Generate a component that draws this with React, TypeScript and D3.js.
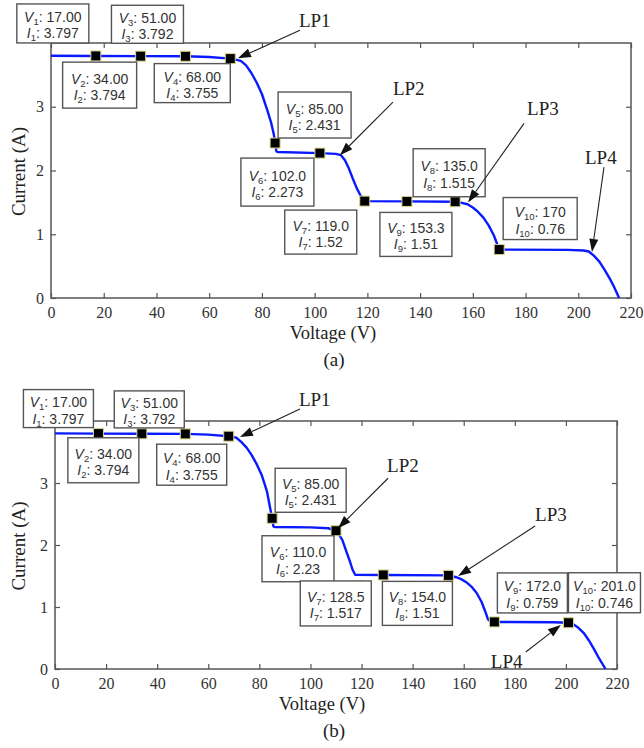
import React, { useEffect, useRef } from 'react';
import * as d3 from 'd3';

const voltageTicks = [0, 20, 40, 60, 80, 100, 120, 140, 160, 180, 200, 220];
const currentTicks = [0, 1, 2, 3];

// panel (a)
const curveAVoltage = [0, 17, 34, 51, 60, 68, 70, 72, 74, 76, 78, 80, 82, 83.5, 84.5, 85, 85.5, 86, 102, 108, 110, 111.5, 113, 114.5, 116, 117.5, 119, 135, 153.3, 155, 158, 160, 162, 164, 166, 168, 169, 170, 196, 202, 204, 206, 208, 210, 212, 213.5, 215.5];
const curveACurrent = [3.8, 3.797, 3.794, 3.792, 3.78, 3.755, 3.74, 3.72, 3.65, 3.53, 3.38, 3.2, 2.95, 2.75, 2.57, 2.431, 2.3, 2.29, 2.273, 2.26, 2.24, 2.16, 2.03, 1.87, 1.72, 1.6, 1.52, 1.515, 1.51, 1.5, 1.47, 1.42, 1.35, 1.26, 1.14, 0.98, 0.87, 0.76, 0.755, 0.745, 0.73, 0.66, 0.57, 0.44, 0.3, 0.18, 0];
const pointsAVoltage = [17, 34, 51, 68, 85, 102, 119, 135, 153.3, 170];
const pointsACurrent = [3.797, 3.794, 3.792, 3.755, 2.431, 2.273, 1.52, 1.515, 1.51, 0.76];
const tipsAVoltage = ['17.00', '34.00', '51.00', '68.00', '85.00', '102.0', '119.0', '135.0', '153.3', '170'];
const tipsACurrent = ['3.797', '3.794', '3.792', '3.755', '2.431', '2.273', '1.52', '1.515', '1.51', '0.76'];
const peaksAVoltage = [70.9, 109.6, 158.2, 205.2];
const peaksACurrent = [3.76, 2.24, 1.5, 0.72];

// panel (b)
const curveBVoltage = [0, 17, 34, 51, 60, 68, 71, 73, 75, 77, 79, 81, 83, 84.2, 85, 85.5, 86, 100, 107, 110, 111, 112.5, 114, 115.5, 116.5, 117.5, 128.5, 154, 155, 157, 159, 161, 163, 165, 167, 168.5, 169.5, 170.5, 172, 195, 201, 203, 205, 207, 209, 211, 213, 215.5];
const curveBCurrent = [3.8, 3.797, 3.794, 3.792, 3.78, 3.755, 3.73, 3.66, 3.57, 3.45, 3.3, 3.12, 2.86, 2.6, 2.431, 2.3, 2.29, 2.285, 2.27, 2.23, 2.18, 2.08, 1.9, 1.73, 1.6, 1.52, 1.517, 1.51, 1.5, 1.48, 1.45, 1.4, 1.33, 1.23, 1.08, 0.92, 0.8, 0.765, 0.759, 0.755, 0.746, 0.72, 0.66, 0.58, 0.46, 0.32, 0.17, 0];
const pointsBVoltage = [17, 34, 51, 68, 85, 110, 128.5, 154, 172, 201];
const pointsBCurrent = [3.797, 3.794, 3.792, 3.755, 2.431, 2.23, 1.517, 1.51, 0.759, 0.746];
const tipsBVoltage = ['17.00', '34.00', '51.00', '68.00', '85.00', '110.0', '128.5', '154.0', '172.0', '201.0'];
const tipsBCurrent = ['3.797', '3.794', '3.792', '3.755', '2.431', '2.23', '1.517', '1.51', '0.759', '0.746'];
const peaksBVoltage = [72.4, 110.8, 157.8, 198];
const peaksBCurrent = [3.74, 2.27, 1.5, 0.71];

const peakNames = ['LP1', 'LP2', 'LP3', 'LP4'];

// layout of data tips: anchor marker + pixel offset of box corner
const tipBoxesA = [
  { at: 0, dx: -79, dy: -52, w: 72, h: 39 },
  { at: 1, dx: -78, dy: 6, w: 74, h: 46 },
  { at: 2, dx: -74, dy: -51, w: 72, h: 38 },
  { at: 3, dx: -76, dy: 5, w: 76, h: 39 },
  { at: 4, dx: 3, dy: -51, w: 73, h: 46 },
  { at: 5, dx: -79, dy: 5, w: 73, h: 48 },
  { at: 6, dx: -80, dy: 9, w: 72, h: 44 },
  { at: 8, dx: -42, dy: -53, w: 72, h: 48 },
  { at: 7, dx: -27, dy: 11, w: 72, h: 44 },
  { at: 9, dx: 4, dy: -52, w: 74, h: 42 },
];
const tipBoxesB = [
  { at: 0, dx: -75, dy: -44, w: 70, h: 38 },
  { at: 1, dx: -74, dy: 4, w: 71, h: 45 },
  { at: 2, dx: -71, dy: -43, w: 70, h: 37 },
  { at: 3, dx: -72, dy: 8, w: 70, h: 41 },
  { at: 4, dx: 3, dy: -50, w: 71, h: 44 },
  { at: 5, dx: -74, dy: 5, w: 72, h: 46 },
  { at: 6, dx: -83, dy: 6, w: 71, h: 45 },
  { at: 7, dx: -66, dy: 6, w: 70, h: 44 },
  { at: 8, dx: 3, dy: -49, w: 70, h: 40 },
  { at: 9, dx: 0, dy: -50, w: 72, h: 40 },
];

// arrow tail and label text, offsets from arrow head
const peakLayoutA = [
  { tx: 62, ty: -28, lx: 61, ly: -31 },
  { tx: 53, ty: -53, lx: 53, ly: -60 },
  { tx: 56, ty: -79, lx: 59, ly: -87 },
  { tx: 12, ty: -85, lx: -7, ly: -88 },
];
const peakLayoutB = [
  { tx: 60, ty: -28, lx: 59, ly: -31 },
  { tx: 50, ty: -50, lx: 49, ly: -56 },
  { tx: 77, ty: -50, lx: 77, ly: -55 },
  { tx: -35, ty: 27, lx: -70, ly: 43 },
];

const serif = '"Liberation Serif", "Times New Roman", serif';
const sans = '"Liberation Sans", Arial, sans-serif';

const drawPanel = (svg, p) => {
  const x = d3.scaleLinear().domain([0, 220]).range([p.left, p.right]);
  const y = d3.scaleLinear().domain([0, 4]).range([p.bottom, p.top]);
  const g = svg.append('g');

  const styleAxis = (a) => {
    a.select('.domain').remove();
    a.selectAll('line').attr('stroke', '#555').attr('stroke-width', 1.2);
    a.selectAll('text').attr('fill', '#333').attr('font-family', serif).attr('font-size', 16);
  };

  g.append('g').attr('transform', `translate(0,${p.bottom})`)
    .call(d3.axisBottom(x).tickValues(voltageTicks).tickSize(-5).tickPadding(9).tickFormat(d3.format('d')))
    .call(styleAxis);
  g.append('g').attr('transform', `translate(0,${p.top})`)
    .call(d3.axisTop(x).tickValues(voltageTicks).tickSize(-5).tickFormat(() => ''))
    .call(styleAxis);
  g.append('g').attr('transform', `translate(${p.left},0)`)
    .call(d3.axisLeft(y).tickValues(currentTicks).tickSize(-5).tickPadding(7).tickFormat(d3.format('d')))
    .call(styleAxis);
  g.append('g').attr('transform', `translate(${p.right},0)`)
    .call(d3.axisRight(y).tickValues(currentTicks).tickSize(-5).tickFormat(() => ''))
    .call(styleAxis);

  g.append('rect')
    .attr('x', p.left).attr('y', p.top)
    .attr('width', p.right - p.left).attr('height', p.bottom - p.top)
    .attr('fill', 'none').attr('stroke', '#555').attr('stroke-width', 1.5);

  // I-V curve
  const line = d3.line().x((d) => x(d[0])).y((d) => y(d[1]));
  g.append('path')
    .datum(p.cv.map((v, i) => [v, p.ci[i]]))
    .attr('d', line)
    .attr('fill', 'none')
    .attr('stroke', '#0a1aff')
    .attr('stroke-width', 2.4)
    .attr('stroke-linejoin', 'round');

  // markers
  const pts = p.pv.map((v, i) => [x(v), y(p.pi[i])]);
  g.selectAll('rect.mk').data(pts).enter().append('rect')
    .attr('class', 'mk')
    .attr('x', (d) => d[0] - 5).attr('y', (d) => d[1] - 5)
    .attr('width', 10).attr('height', 10)
    .attr('fill', '#000').attr('stroke', '#d9d48c').attr('stroke-width', 1);

  // data tips
  p.boxes.forEach((b, i) => {
    const [ax, ay] = pts[b.at];
    const bx = ax + b.dx;
    const by = ay + b.dy;
    g.append('rect').attr('x', bx).attr('y', by).attr('width', b.w).attr('height', b.h)
      .attr('fill', '#fff').attr('stroke', '#555').attr('stroke-width', 1.4);
    const rows = [['V', p.tv[i]], ['I', p.ti[i]]];
    rows.forEach((r, k) => {
      const t = g.append('text')
        .attr('x', bx + b.w / 2)
        .attr('y', by + b.h / 2 - 1.5 + k * 16.5)
        .attr('text-anchor', 'middle')
        .attr('font-family', sans).attr('font-size', 14).attr('fill', '#333');
      t.append('tspan').attr('font-style', 'italic').text(r[0]);
      t.append('tspan').attr('font-size', 9.5).attr('dy', 3).text(String(i + 1));
      t.append('tspan').attr('dy', -3).text(': ' + r[1]);
    });
  });

  // local peak arrows
  p.peaks.forEach((lay, i) => {
    const hx = x(p.lv[i]);
    const hy = y(p.li[i]);
    const tx = hx + lay.tx;
    const ty = hy + lay.ty;
    const len = Math.hypot(hx - tx, hy - ty);
    const ux = (hx - tx) / len;
    const uy = (hy - ty) / len;
    const bx = hx - ux * 13;
    const by = hy - uy * 13;
    g.append('line').attr('x1', tx).attr('y1', ty).attr('x2', bx).attr('y2', by)
      .attr('stroke', '#222').attr('stroke-width', 1.1);
    g.append('polygon')
      .attr('points', [[hx, hy], [bx - uy * 4.5, by + ux * 4.5], [bx + uy * 4.5, by - ux * 4.5]].map((q) => q.join(',')).join(' '))
      .attr('fill', '#111');
    g.append('text').attr('x', hx + lay.lx).attr('y', hy + lay.ly)
      .attr('font-family', serif).attr('font-size', 19).attr('fill', '#222')
      .text(peakNames[i]);
  });

  // axis titles
  g.append('text').attr('x', p.xLabelX).attr('y', p.bottom + 41)
    .attr('text-anchor', 'middle').attr('font-family', serif).attr('font-size', 18.5).attr('fill', '#222')
    .text('Voltage (V)');
  g.append('text')
    .attr('transform', `translate(${18},${(p.top + p.bottom) / 2 + 1}) rotate(-90)`)
    .attr('text-anchor', 'middle').attr('dominant-baseline', 'central')
    .attr('font-family', serif).attr('font-size', 19).attr('fill', '#222')
    .text('Current (A)');
  g.append('text').attr('x', 334).attr('y', p.bottom + 68)
    .attr('text-anchor', 'middle').attr('font-family', serif).attr('font-size', 19).attr('fill', '#222')
    .text(p.caption);
};

const App = () => {
  const svgRef = useRef(null);

  useEffect(() => {
    const svg = d3.select(svgRef.current);
    svg.selectAll('*').remove();

    drawPanel(svg, {
      left: 51, right: 631, top: 43, bottom: 298, xLabelX: 333, caption: '(a)',
      cv: curveAVoltage, ci: curveACurrent,
      pv: pointsAVoltage, pi: pointsACurrent,
      tv: tipsAVoltage, ti: tipsACurrent,
      lv: peaksAVoltage, li: peaksACurrent,
      boxes: tipBoxesA, peaks: peakLayoutA,
    });
    drawPanel(svg, {
      left: 55, right: 617, top: 421, bottom: 669, xLabelX: 322, caption: '(b)',
      cv: curveBVoltage, ci: curveBCurrent,
      pv: pointsBVoltage, pi: pointsBCurrent,
      tv: tipsBVoltage, ti: tipsBCurrent,
      lv: peaksBVoltage, li: peaksBCurrent,
      boxes: tipBoxesB, peaks: peakLayoutB,
    });
  }, []);

  return (
    <div style={{ position: 'absolute', left: 0, top: 0, background: '#fff' }}>
      <svg ref={svgRef} width={644} height={748} style={{ display: 'block' }} />
    </div>
  );
};

export default App;
